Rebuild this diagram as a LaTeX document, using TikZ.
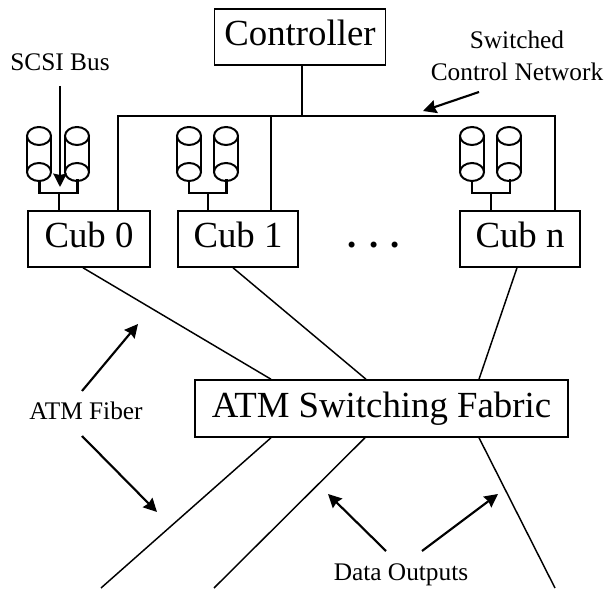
\documentclass[tikz,border=0pt]{standalone}
\usepackage{fontspec}
\setmainfont{Liberation Serif}
\usetikzlibrary{arrows.meta,calc}
\tikzset{
  boxnode/.style={draw=black,line width=1.15pt,inner sep=0pt,text height=13.5pt,text depth=0pt,font=\fontsize{27.6}{30}\selectfont},
  labeltext/.style={inner sep=0pt,anchor=base,font=\fontsize{19}{22}\selectfont},
  busline/.style={line width=1.6pt,black},
  wiring/.style={line width=1.6pt,black},
  drumline/.style={line width=1.5pt,black},
  fiber/.style={line width=1.1pt,black},
  pointer/.style={line width=1.6pt,black,-{Stealth[length=10pt,width=10pt,inset=1pt]}}
}
\newcommand{\drumat}[2]{%
  \draw[drumline] (#1,#2) ellipse [x radius=12,y radius=9];
  \draw[drumline] (#1,#2+36) ellipse [x radius=12,y radius=9];
  \draw[drumline] (#1-12,#2) -- (#1-12,#2+36) (#1+12,#2) -- (#1+12,#2+36);
}
\begin{document}
\begin{tikzpicture}[x=0.75pt,y=-0.75pt]
\useasboundingbox (0,0) rectangle (607,591);
% boxes
\node[boxnode,minimum width=128.25pt,minimum height=42pt] (ctrl) at (300,37) {Controller};
\node[boxnode,minimum width=91.5pt,minimum height=42pt] (cub0) at (89,239) {Cub 0};
\node[boxnode,minimum width=90pt,minimum height=42pt] (cub1) at (238,239) {Cub 1};
\node[boxnode,minimum width=90pt,minimum height=42pt] (cubn) at (520,239) {Cub n};
\node[boxnode,text height=14.2pt,minimum width=279.5pt,minimum height=42.75pt] (atm) at (381.5,408.5) {ATM Switching Fabric};
\node[inner sep=0pt,anchor=base,font=\bfseries\fontsize{27.6}{30}\selectfont] (dots) at (374,248) {. . .};
% labels
\node[labeltext] (scsi) at (60,71) {SCSI Bus};
\node[labeltext] (sw) at (517,49) {Switched};
\node[labeltext] (cn) at (517,81) {Control Network};
\node[labeltext] (fib) at (86,420) {ATM Fiber};
\node[labeltext] (out) at (401,580) {Data Outputs};
% control network
\coordinate (busL) at (118,116);
\coordinate (busR) at (555,116);
\coordinate (busC) at (302,116);
\coordinate (bus1) at (271,116);
\draw[busline] (cub0.north -| busL) -- (busL) -- (busR) -- (cubn.north -| busR);
\draw[busline] (ctrl.south -| busC) -- (busC);
\draw[busline] (bus1) -- (cub1.north -| bus1);
% drums
\drumat{39}{136}\drumat{77}{136}
\drumat{189}{136}\drumat{226}{136}
\drumat{472}{136}\drumat{509}{136}
% drum wiring
\draw[wiring] (39.5,181) -- (39.5,193) -- (77.5,193) -- (77.5,179);
\draw[wiring] (59,193) -- (cub0.north -| 59,0);
\draw[wiring] (189,181) -- (189,193) -- (226.5,193) -- (226.5,179);
\draw[wiring] (208,193) -- (cub1.north -| 208,0);
\draw[wiring] (472,181) -- (472,193) -- (510,193) -- (510,179);
\draw[wiring] (491,193) -- (cubn.north -| 491,0);
% fibers
\coordinate (a0) at (271,380); \coordinate (a1) at (366,380); \coordinate (a2) at (479,380);
\coordinate (b0) at (271,437); \coordinate (b1) at (365,437); \coordinate (b2) at (479,437);
\coordinate (o0) at (101,588); \coordinate (o1) at (214,588); \coordinate (o2) at (555,588);
\draw[fiber] ($(cub0.south)+(-6,0)$) -- (atm.north -| a0);
\draw[fiber] ($(cub1.south)+(-5,0)$) -- (atm.north -| a1);
\draw[fiber] ($(cubn.south)+(-3,0)$) -- (atm.north -| a2);
\draw[fiber] (atm.south -| b0) -- (o0);
\draw[fiber] (atm.south -| b1) -- (o1);
\draw[fiber] (atm.south -| b2) -- (o2);
% pointers
\coordinate (p1) at (60,86); \coordinate (p1e) at (60,187);
\draw[pointer] (p1) -- (p1e);
\coordinate (p2) at (479,92); \coordinate (p2e) at (423,111);
\draw[pointer] (p2) -- (p2e);
\coordinate (p3) at (82,391); \coordinate (p3e) at (138,324);
\draw[pointer] (p3) -- (p3e);
\coordinate (p4) at (82,436); \coordinate (p4e) at (157,512);
\draw[pointer] (p4) -- (p4e);
\coordinate (p5) at (386,551); \coordinate (p5e) at (328,494);
\draw[pointer] (p5) -- (p5e);
\coordinate (p6) at (422,551); \coordinate (p6e) at (498,494);
\draw[pointer] (p6) -- (p6e);
\end{tikzpicture}
\end{document}
